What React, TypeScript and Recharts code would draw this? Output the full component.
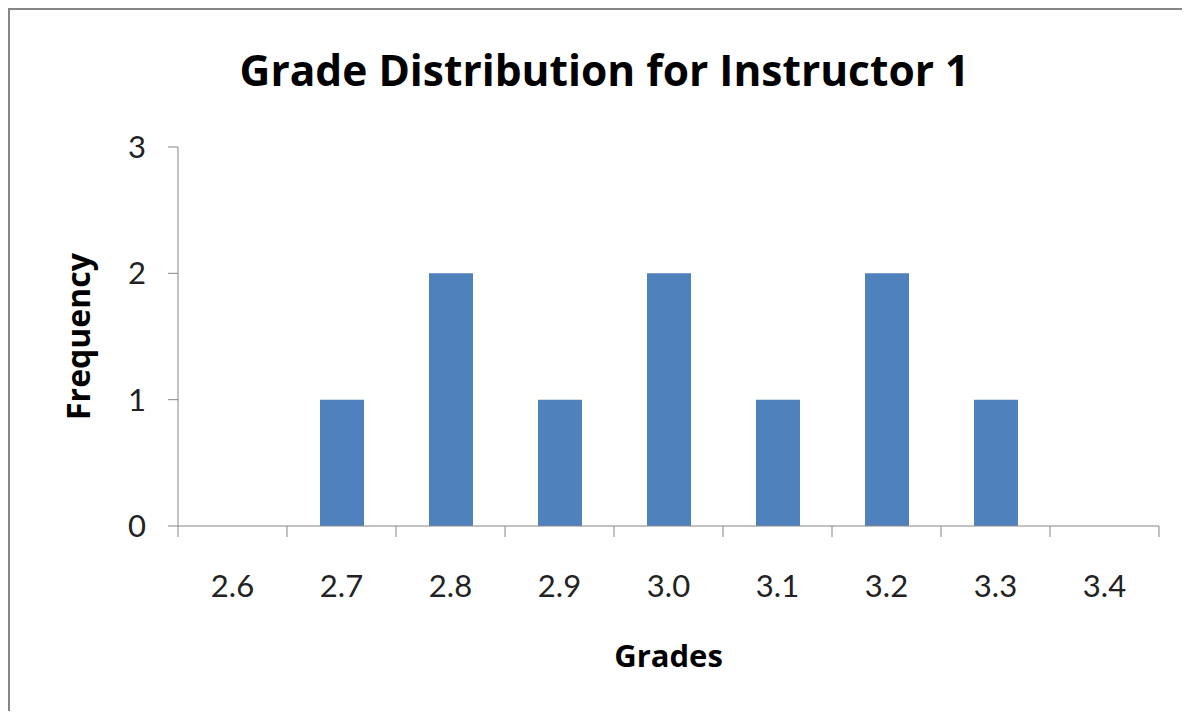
import { Bar, BarChart, Label, XAxis, YAxis } from "recharts";

const grades = ["2.6", "2.7", "2.8", "2.9", "3.0", "3.1", "3.2", "3.3", "3.4"];
const frequency = [0, 1, 2, 1, 2, 1, 2, 1, 0];
const yTicks = [0, 1, 2, 3];

const data = grades.map((grade, i) => ({ grade, count: frequency[i] }));

const W = 1190;
const H = 719;
const LEFT = 178;
const RIGHT = 31;
const TOP = 147;
const X_AXIS_H = 193;
const X_TICK_SIZE = 11;
const X_TICK_MARGIN = 38;
const BAND = (W - LEFT - RIGHT) / grades.length;
const AXIS = "#868686";
const FONT = "Lato, 'Open Sans', sans-serif";
const TITLE_FONT = "'Open Sans', Lato, sans-serif";

function GradeTick(props: any) {
  const { x, y, payload, index } = props;
  const top = y - X_TICK_MARGIN - X_TICK_SIZE;
  return (
    <g>
      <line x1={x - BAND / 2} x2={x - BAND / 2} y1={top} y2={top + X_TICK_SIZE} stroke={AXIS} />
      {index === grades.length - 1 && (
        <line x1={x + BAND / 2} x2={x + BAND / 2} y1={top} y2={top + X_TICK_SIZE} stroke={AXIS} />
      )}
      <text x={x} y={y} dy="0.71em" textAnchor="middle" fontSize={31} fontFamily={FONT} fill="#222">
        {payload.value}
      </text>
    </g>
  );
}

export default function App() {
  return (
    <div style={{ position: "relative", margin: -8, width: W, height: H, background: "#fff", overflow: "hidden" }}>
      <div
        style={{
          position: "absolute",
          left: 8,
          top: 8,
          width: 1176,
          height: 730,
          border: `2px solid ${AXIS}`,
          boxSizing: "border-box",
        }}
      />
      <div
        style={{
          position: "absolute",
          left: 604.5 - 500,
          top: 48.5,
          width: 1000,
          textAlign: "center",
          fontFamily: TITLE_FONT,
          fontWeight: 700,
          fontSize: 42.5,
          lineHeight: "42.5px",
          color: "#000",
        }}
      >
        Grade Distribution for Instructor 1
      </div>
      <BarChart
        width={W}
        height={H}
        data={data}
        margin={{ top: TOP, right: RIGHT, bottom: 0, left: 0 }}
        style={{ position: "absolute", left: 0, top: 0 }}
      >
        <XAxis
          dataKey="grade"
          height={X_AXIS_H}
          stroke={AXIS}
          tickLine={false}
          tickSize={X_TICK_SIZE}
          tickMargin={X_TICK_MARGIN}
          tick={<GradeTick />}
          interval={0}
        >
          <Label
            value="Grades"
            position="insideBottom"
            offset={52}
            style={{ fontFamily: TITLE_FONT, fontWeight: 700, fontSize: 31, fill: "#000" }}
          />
        </XAxis>
        <YAxis
          width={LEFT}
          domain={[0, 3]}
          ticks={yTicks}
          stroke={AXIS}
          tickSize={10}
          tickMargin={22}
          tick={{ fontFamily: FONT, fontSize: 31, fill: "#222" }}
        >
          <Label
            value="Frequency"
            angle={-90}
            position="insideLeft"
            offset={79}
            style={{ fontFamily: TITLE_FONT, fontWeight: 700, fontSize: 32, fill: "#000", textAnchor: "middle" }}
          />
        </YAxis>
        <Bar dataKey="count" fill="#4F81BD" barSize={44} isAnimationActive={false} />
      </BarChart>
    </div>
  );
}
